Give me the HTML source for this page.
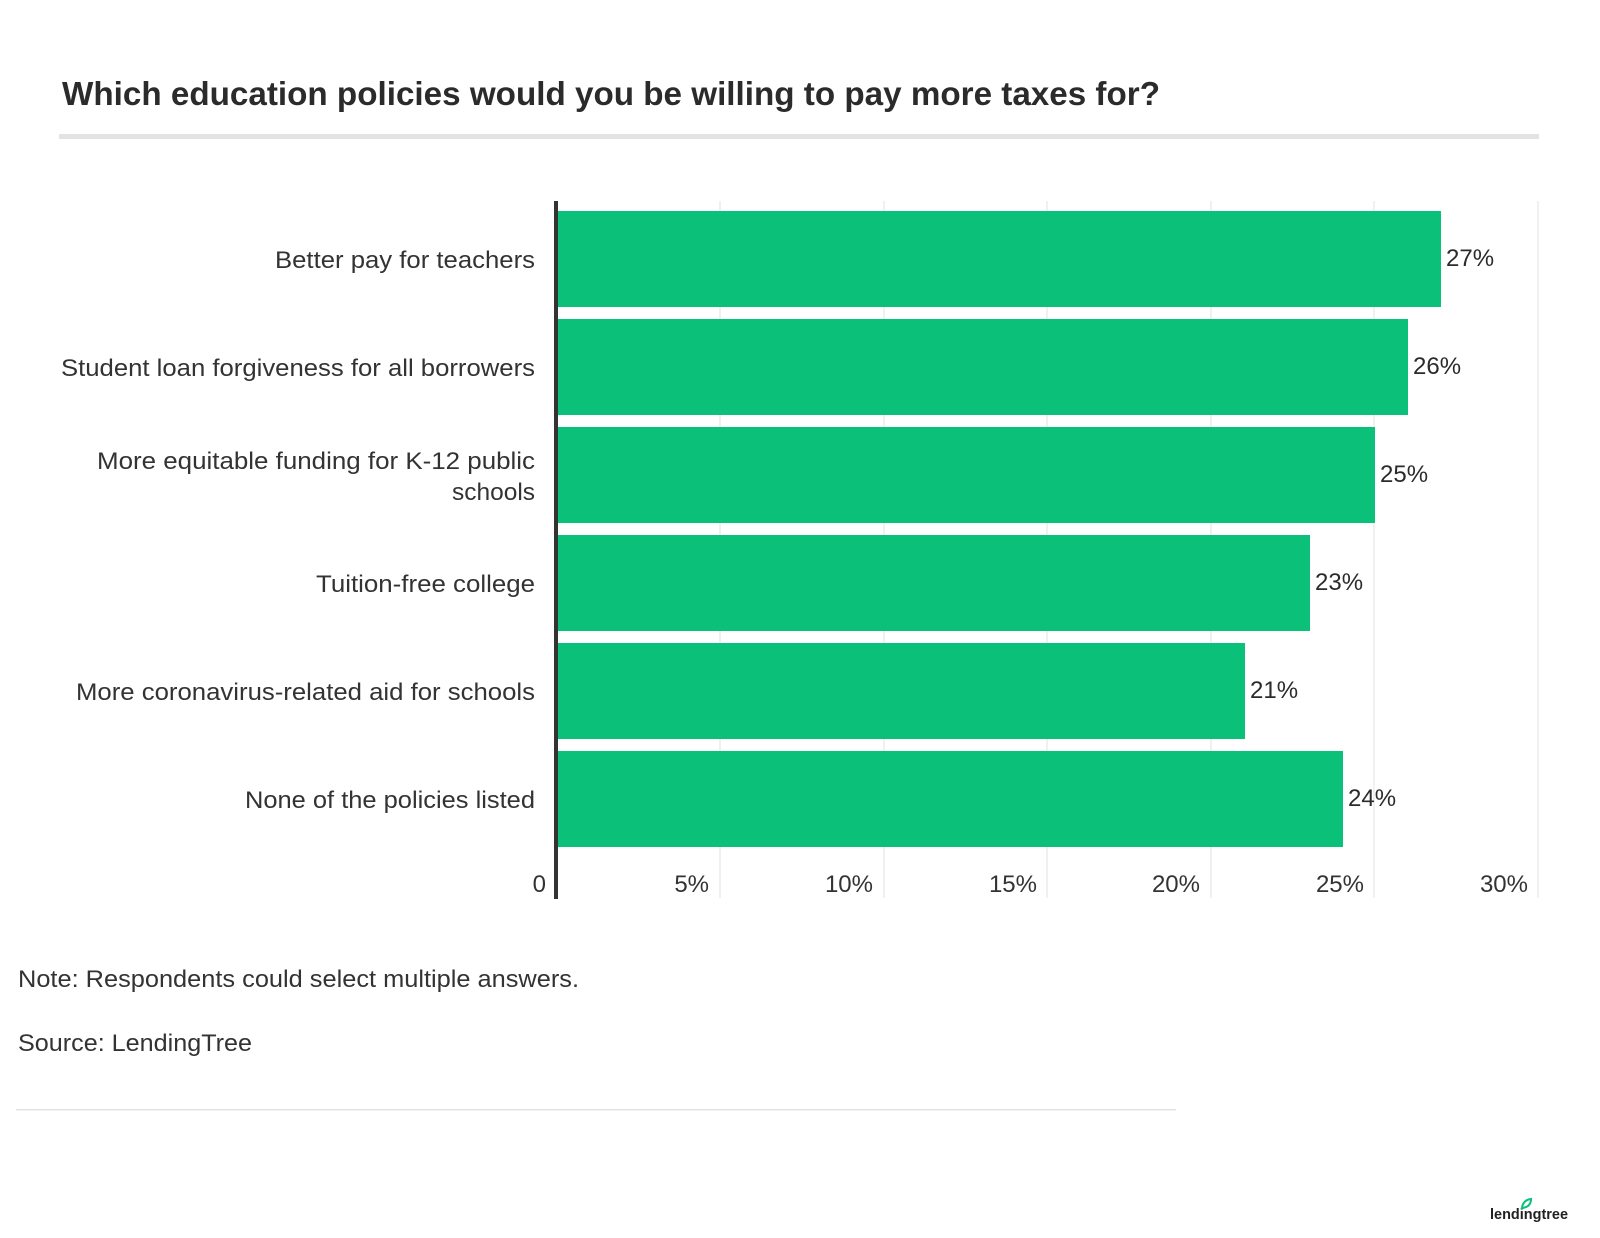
<!DOCTYPE html>
<html><head><meta charset="utf-8"><style>html,body{margin:0;padding:0;background:#fff}svg{display:block}</style></head>
<body>
<svg width="1600" height="1238" viewBox="0 0 1600 1238" xmlns="http://www.w3.org/2000/svg" font-family="Liberation Sans, sans-serif">
<text x="62" y="105" font-size="33" font-weight="bold" fill="#2b2b2b" textLength="1098" lengthAdjust="spacingAndGlyphs">Which education policies would you be willing to pay more taxes for?</text>
<rect x="59" y="134" width="1480" height="5" fill="#e3e3e3"/>
<g stroke="#ececec" stroke-width="1.5">
<line x1="720" y1="201" x2="720" y2="898"/><line x1="884" y1="201" x2="884" y2="898"/>
<line x1="1047" y1="201" x2="1047" y2="898"/><line x1="1211" y1="201" x2="1211" y2="898"/>
<line x1="1374" y1="201" x2="1374" y2="898"/><line x1="1538" y1="201" x2="1538" y2="898"/>
</g>
<g fill="#0bc17a">
<rect x="557" y="211" width="884" height="96"/>
<rect x="557" y="319" width="851" height="96"/>
<rect x="557" y="427" width="818" height="96"/>
<rect x="557" y="535" width="753" height="96"/>
<rect x="557" y="643" width="688" height="96"/>
<rect x="557" y="751" width="786" height="96"/>
</g>
<rect x="554" y="201" width="4" height="698" fill="#333"/>
<g font-size="24" fill="#2b2b2b">
<text x="1446" y="266">27%</text><text x="1413" y="374">26%</text><text x="1380" y="482">25%</text>
<text x="1315" y="590">23%</text><text x="1250" y="698">21%</text><text x="1348" y="806">24%</text>
</g>
<g font-size="24" fill="#333" text-anchor="end" lengthAdjust="spacingAndGlyphs">
<text x="535" y="268" textLength="260" lengthAdjust="spacingAndGlyphs">Better pay for teachers</text>
<text x="535" y="376" textLength="474" lengthAdjust="spacingAndGlyphs">Student loan forgiveness for all borrowers</text>
<text x="535" y="469" textLength="438" lengthAdjust="spacingAndGlyphs">More equitable funding for K-12 public</text>
<text x="535" y="500" textLength="83" lengthAdjust="spacingAndGlyphs">schools</text>
<text x="535" y="592" textLength="219" lengthAdjust="spacingAndGlyphs">Tuition-free college</text>
<text x="535" y="700" textLength="459" lengthAdjust="spacingAndGlyphs">More coronavirus-related aid for schools</text>
<text x="535" y="808" textLength="290" lengthAdjust="spacingAndGlyphs">None of the policies listed</text>
<text x="546" y="892">0</text>
<text x="709" y="892">5%</text><text x="873" y="892">10%</text><text x="1037" y="892">15%</text>
<text x="1200" y="892">20%</text><text x="1364" y="892">25%</text><text x="1528" y="892">30%</text>
</g>
<g font-size="24" fill="#333">
<text x="18" y="987" textLength="561" lengthAdjust="spacingAndGlyphs">Note: Respondents could select multiple answers.</text>
<text x="18" y="1051" textLength="234" lengthAdjust="spacingAndGlyphs">Source: LendingTree</text>
</g>
<rect x="16" y="1109" width="1160" height="1.5" fill="#e3e3e3"/>
<text x="1490" y="1219" font-size="15" font-weight="bold" fill="#222" textLength="78" lengthAdjust="spacingAndGlyphs">lendingtree</text>
<path d="M1522 1208 q1 -8 9 -9 q0 8 -9 9z" fill="none" stroke="#0bc17a" stroke-width="2"/>
</svg>
</body></html>
